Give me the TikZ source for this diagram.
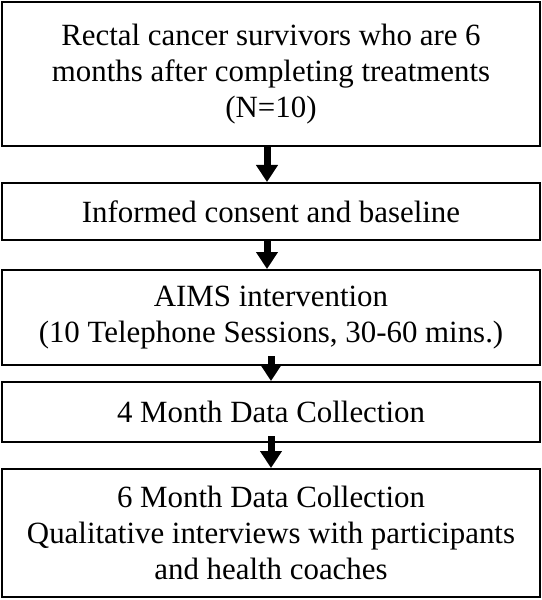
\documentclass[tikz,border=0pt]{standalone}
\usepackage{fontspec}
\setmainfont{Liberation Serif}
\usetikzlibrary{arrows.meta}
\begin{document}
\begin{tikzpicture}[x=1bp,y=-1bp,
  box/.style={draw=black, line width=2bp, rectangle, inner sep=0pt, minimum width=537bp, align=center, font=\fontsize{31}{36}\selectfont},
  arr/.style={line width=7bp, -{Triangle[width=21bp,length=17bp]}}]
\useasboundingbox (0,0) rectangle (542,600);
\node[box, minimum height=144bp] (b1) at (271,74) {Rectal cancer survivors who are 6\\months after completing treatments\\(N=10)};
\node[box, minimum height=57bp] (b2) at (271,211.5) {Informed consent and baseline};
\node[box, minimum height=95bp] (b3) at (271,317.5) {AIMS intervention\\(10 Telephone Sessions, 30-60 mins.)};
\node[box, minimum height=60bp] (b4) at (271,412) {4 Month Data Collection};
\node[box, minimum height=128bp] (b5) at (271,533) {6 Month Data Collection\\Qualitative interviews with participants\\and health coaches};
\draw[arr] ([xshift=-4bp]b1.south) -- ([xshift=-4bp]b2.north);
\draw[arr] ([xshift=-4bp]b2.south) -- ([xshift=-4bp]b3.north);
\draw[arr] ([yshift=10bp]b3.south) -- (b4.north);
\draw[arr] ([yshift=7bp]b4.south) -- (b5.north);
\end{tikzpicture}
\end{document}
